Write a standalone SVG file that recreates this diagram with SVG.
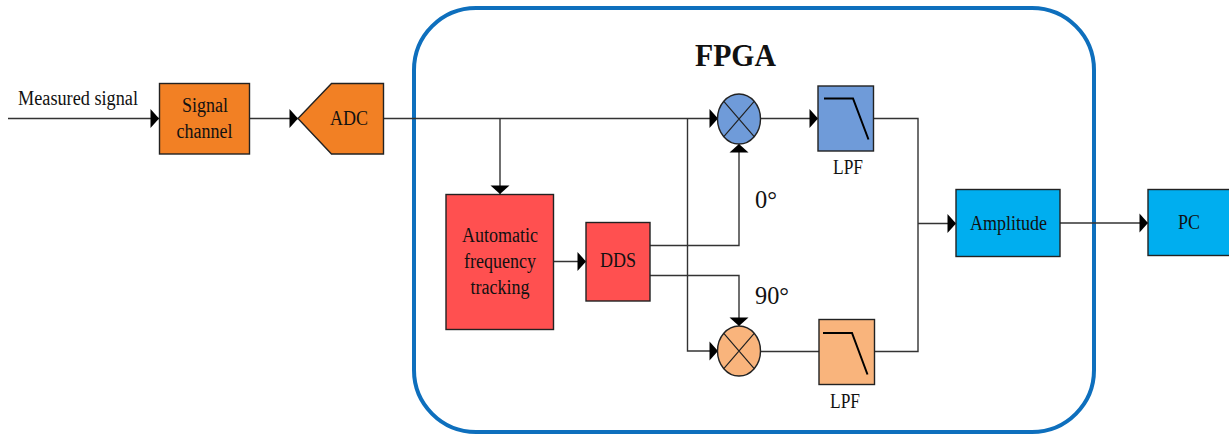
<svg xmlns="http://www.w3.org/2000/svg" width="1229" height="435" viewBox="0 0 1229 435">
<style>
text{font-family:"Liberation Serif","Times New Roman",serif;fill:#111;text-anchor:middle}
.t{font-size:20px}
.b{stroke:#222;stroke-width:1.4}
.c{fill:none;stroke:#333;stroke-width:1.4}
.x{fill:none;stroke:#222;stroke-width:1.2}
.f{fill:none;stroke:#000;stroke-width:2}
.o{fill:#f28024}.r{fill:#ff5050}.bl{fill:#6f9bd9}.p{fill:#f9b47c}.a{fill:#00aeef}
</style>
<defs>
<marker id="arrow" markerUnits="userSpaceOnUse" markerWidth="10" markerHeight="20" refX="9" refY="10" orient="auto"><path d="M0.500,0.500L9,10L0.500,19.500Z" fill="#000"/></marker>
</defs>
<rect id="fpga-frame" x="414" y="8" width="680" height="424" rx="62" fill="none" stroke="#0e6fbd" stroke-width="4"/>
<text x="735.500" y="66" font-size="32" font-weight="bold" textLength="81" lengthAdjust="spacingAndGlyphs">FPGA</text>
<g id="connectors">
<path class="c" d="M8,118.500H159" marker-end="url(#arrow)"/>
<path class="c" d="M250,118.500H298" marker-end="url(#arrow)"/>
<path class="c" d="M383,118.500H718" marker-end="url(#arrow)"/>
<path class="c" d="M500,118.500V194" marker-end="url(#arrow)"/>
<path class="c" d="M687.500,118.500V351H718" marker-end="url(#arrow)"/>
<path class="c" d="M553,261.500H586" marker-end="url(#arrow)"/>
<path class="c" d="M650,245.500H739V144" marker-end="url(#arrow)"/>
<path class="c" d="M650,275.500H739V326" marker-end="url(#arrow)"/>
<path class="c" d="M761,118.500H818" marker-end="url(#arrow)"/>
<path class="c" d="M761,351.500H819"/>
<path class="c" d="M873,118.500H918V351.500H874"/>
<path class="c" d="M918,223.500H956" marker-end="url(#arrow)"/>
<path class="c" d="M1060,223H1148" marker-end="url(#arrow)"/>
</g>
<g id="measured-signal"><text class="t" x="78" y="105" textLength="120" lengthAdjust="spacingAndGlyphs">Measured signal</text></g>
<g id="signal-channel"><rect class="b o" x="159.500" y="83.500" width="90" height="70.500"/><text class="t" x="205" y="112" textLength="46" lengthAdjust="spacingAndGlyphs">Signal</text><text class="t" x="204.500" y="138" textLength="56" lengthAdjust="spacingAndGlyphs">channel</text></g>
<g id="adc"><path class="b o" d="M298,118.500L331.500,83.500H383.500V154H331.500Z"/><text class="t" x="349" y="125" textLength="38" lengthAdjust="spacingAndGlyphs">ADC</text></g>
<g id="aft"><rect class="b r" x="446" y="194.500" width="107.500" height="135"/><text class="t" x="500" y="242" textLength="76" lengthAdjust="spacingAndGlyphs">Automatic</text><text class="t" x="500" y="268" textLength="72" lengthAdjust="spacingAndGlyphs">frequency</text><text class="t" x="500" y="294" textLength="59" lengthAdjust="spacingAndGlyphs">tracking</text></g>
<g id="dds"><rect class="b r" x="586" y="222.500" width="64" height="78.500"/><text class="t" x="618" y="267" textLength="36" lengthAdjust="spacingAndGlyphs">DDS</text></g>
<g id="mixer-top"><ellipse class="b bl" cx="739" cy="119" rx="21.500" ry="25"/><path class="x" d="M723.800,101.300L754.200,136.700M754.200,101.300L723.800,136.700"/></g>
<g id="mixer-bottom"><ellipse class="b p" cx="739" cy="351" rx="21.500" ry="25"/><path class="x" d="M723.800,333.300L754.200,368.700M754.200,333.300L723.800,368.700"/></g>
<g id="lpf-top"><rect class="b bl" x="818" y="86" width="55.500" height="65"/><path class="f" d="M824,98.500H853L868.500,139.500"/><text class="t" x="848" y="174" textLength="30" lengthAdjust="spacingAndGlyphs">LPF</text></g>
<g id="lpf-bottom"><rect class="b p" x="819" y="319.500" width="55.500" height="65"/><path class="f" d="M823,333H852L867.500,374.500"/><text class="t" x="845" y="408" textLength="30" lengthAdjust="spacingAndGlyphs">LPF</text></g>
<g id="angle-0"><text x="766" y="208" font-size="26" textLength="22" lengthAdjust="spacingAndGlyphs">0°</text></g>
<g id="angle-90"><text x="772" y="304" font-size="26" textLength="34" lengthAdjust="spacingAndGlyphs">90°</text></g>
<g id="amplitude"><rect class="b a" x="956" y="189.500" width="104" height="67"/><text class="t" x="1008.500" y="230" textLength="77" lengthAdjust="spacingAndGlyphs">Amplitude</text></g>
<g id="pc"><rect class="b a" x="1148" y="189.500" width="82" height="66"/><text class="t" x="1189" y="229" textLength="22" lengthAdjust="spacingAndGlyphs">PC</text></g>
</svg>
